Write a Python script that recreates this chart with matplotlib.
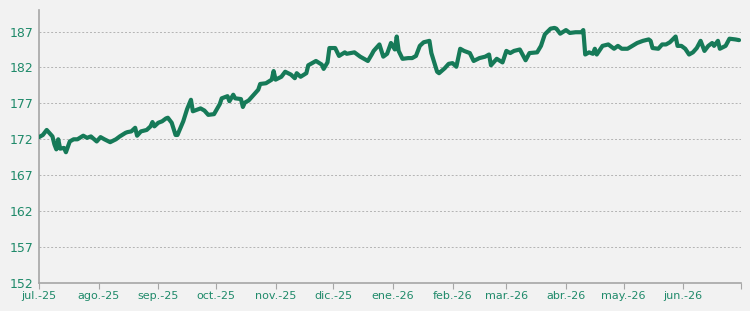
import pandas as pd
import matplotlib
matplotlib.use('Agg')
from matplotlib import pyplot as plt

# values
dates = [
  '2025-07-01', '2025-07-03', '2025-07-05', '2025-07-08', '2025-07-09', '2025-07-10', '2025-07-11',
  '2025-07-12', '2025-07-14', '2025-07-15', '2025-07-17', '2025-07-19', '2025-07-21', '2025-07-24',
  '2025-07-26', '2025-07-28', '2025-07-31', '2025-08-02', '2025-08-04', '2025-08-07', '2025-08-10',
  '2025-08-12', '2025-08-15', '2025-08-16', '2025-08-18', '2025-08-20', '2025-08-21', '2025-08-23',
  '2025-08-26', '2025-08-28', '2025-08-29', '2025-08-30', '2025-09-01', '2025-09-03', '2025-09-05',
  '2025-09-06', '2025-09-08', '2025-09-10', '2025-09-11', '2025-09-14', '2025-09-16', '2025-09-18',
  '2025-09-19', '2025-09-23', '2025-09-25', '2025-09-27', '2025-09-30', '2025-10-03', '2025-10-04',
  '2025-10-07', '2025-10-08', '2025-10-10', '2025-10-11', '2025-10-14', '2025-10-15', '2025-10-16',
  '2025-10-18', '2025-10-21', '2025-10-23', '2025-10-24', '2025-10-27', '2025-10-30', '2025-10-31',
  '2025-11-01', '2025-11-04', '2025-11-06', '2025-11-09', '2025-11-11', '2025-11-12', '2025-11-14',
  '2025-11-17', '2025-11-18', '2025-11-22', '2025-11-25', '2025-11-26', '2025-11-28', '2025-11-29',
  '2025-12-02', '2025-12-04', '2025-12-07', '2025-12-08', '2025-12-12', '2025-12-15', '2025-12-19',
  '2025-12-21', '2025-12-22', '2025-12-25', '2025-12-27', '2025-12-29', '2025-12-31', '2026-01-02',
  '2026-01-03', '2026-01-04', '2026-01-06', '2026-01-09', '2026-01-11', '2026-01-13', '2026-01-15',
  '2026-01-17', '2026-01-20', '2026-01-21', '2026-01-24', '2026-01-25', '2026-01-28', '2026-01-30',
  '2026-02-01', '2026-02-03', '2026-02-05', '2026-02-07', '2026-02-10', '2026-02-12', '2026-02-15',
  '2026-02-18', '2026-02-20', '2026-02-21', '2026-02-24', '2026-02-27', '2026-03-01', '2026-03-03',
  '2026-03-05', '2026-03-08', '2026-03-11', '2026-03-13', '2026-03-17', '2026-03-19', '2026-03-21',
  '2026-03-24', '2026-03-26', '2026-03-27', '2026-03-29', '2026-04-01', '2026-04-03', '2026-04-06',
  '2026-04-09', '2026-04-10', '2026-04-11', '2026-04-13', '2026-04-15', '2026-04-16', '2026-04-17',
  '2026-04-20', '2026-04-23', '2026-04-26', '2026-04-28', '2026-04-30', '2026-05-03', '2026-05-08',
  '2026-05-11', '2026-05-14', '2026-05-15', '2026-05-16', '2026-05-19', '2026-05-21', '2026-05-23',
  '2026-05-25', '2026-05-28', '2026-05-29', '2026-05-31', '2026-06-02', '2026-06-04', '2026-06-06',
  '2026-06-08', '2026-06-10', '2026-06-12', '2026-06-14', '2026-06-16', '2026-06-17', '2026-06-19',
  '2026-06-20', '2026-06-23', '2026-06-25', '2026-06-28', '2026-06-30',
]
values = [
  172.3, 172.6, 173.3, 172.4, 171.3, 170.6, 172.0,
  170.7, 170.8, 170.2, 171.7, 172.0, 172.0, 172.5,
  172.2, 172.4, 171.7, 172.3, 172.0, 171.6, 172.0,
  172.4, 172.9, 173.0, 173.1, 173.6, 172.5, 173.1,
  173.3, 173.8, 174.4, 173.8, 174.3, 174.5, 174.9,
  175.0, 174.3, 172.6, 172.6, 174.5, 176.2, 177.5,
  175.9, 176.3, 176.0, 175.4, 175.5, 176.9, 177.7,
  178.0, 177.3, 178.2, 177.7, 177.6, 176.5, 177.1,
  177.4, 178.3, 178.9, 179.7, 179.8, 180.3, 181.5,
  180.3, 180.7, 181.4, 181.0, 180.5, 181.2, 180.7,
  181.2, 182.3, 182.9, 182.4, 181.8, 182.7, 184.7,
  184.7, 183.6, 184.1, 183.9, 184.1, 183.5, 182.9,
  183.8, 184.3, 185.2, 183.5, 183.9, 185.4, 184.5,
  186.3, 184.3, 183.2, 183.3, 183.3, 183.6, 185.0,
  185.5, 185.7, 184.0, 181.4, 181.2, 181.9, 182.5,
  182.6, 182.1, 184.6, 184.3, 184.0, 182.9, 183.3,
  183.5, 183.8, 182.3, 183.2, 182.7, 184.3, 184.0,
  184.3, 184.5, 183.0, 184.0, 184.1, 185.0, 186.6,
  187.4, 187.5, 187.4, 186.7, 187.2, 186.8, 186.9,
  186.9, 187.2, 183.8, 184.1, 183.9, 184.6, 183.8,
  185.0, 185.2, 184.6, 185.0, 184.6, 184.6, 185.4,
  185.7, 185.9, 185.7, 184.7, 184.6, 185.2, 185.2,
  185.5, 186.3, 185.0, 185.0, 184.6, 183.8, 184.1,
  184.7, 185.7, 184.3, 185.0, 185.4, 185.0, 185.7,
  184.6, 185.0, 186.0, 185.9, 185.8,
]
month_ticks = pd.date_range('2025-07-01', '2026-07-01', freq='MS')
month_labels = ['jul.-25', 'ago.-25', 'sep.-25', 'oct.-25', 'nov.-25', 'dic.-25',
                'ene.-26', 'feb.-26', 'mar.-26', 'abr.-26', 'may.-26', 'jun.-26', '']
y_ticks = [152, 157, 162, 167, 172, 177, 182, 187]

bg = '#f2f2f2'
lineColor = '#167a58'
textColor = '#1f8a6a'
axisColor = '#a6a6a6'

fig = plt.figure(figsize=(7.5, 3.11), dpi=100, facecolor=bg)
ax = fig.add_axes([0.052, 0.09, 0.936, 0.878], facecolor=bg)

ax.plot(pd.to_datetime(dates), values, color=lineColor, linewidth=3.0,
        solid_joinstyle='round', solid_capstyle='round', zorder=3)

ax.set_xlim(month_ticks[0], month_ticks[-1])
ax.set_ylim(152, 190)
ax.set_yticks(y_ticks)
ax.set_xticks(month_ticks)
ax.set_xticklabels(month_labels)

ax.grid(axis='y', color='#b4b4b4', linestyle=(0, (2, 2)), linewidth=0.7)
ax.set_axisbelow(True)

for side in ['top', 'right']:
  ax.spines[side].set_visible(False)
for side in ['left', 'bottom']:
  ax.spines[side].set_color(axisColor)
  ax.spines[side].set_linewidth(1.2)

ax.tick_params(axis='y', length=0, pad=4, labelsize=9, labelcolor=textColor)
ax.tick_params(axis='x', direction='out', length=4, color=axisColor, pad=2,
               labelsize=8, labelcolor=textColor)

fig.savefig('out.png', dpi=100, facecolor=bg)
